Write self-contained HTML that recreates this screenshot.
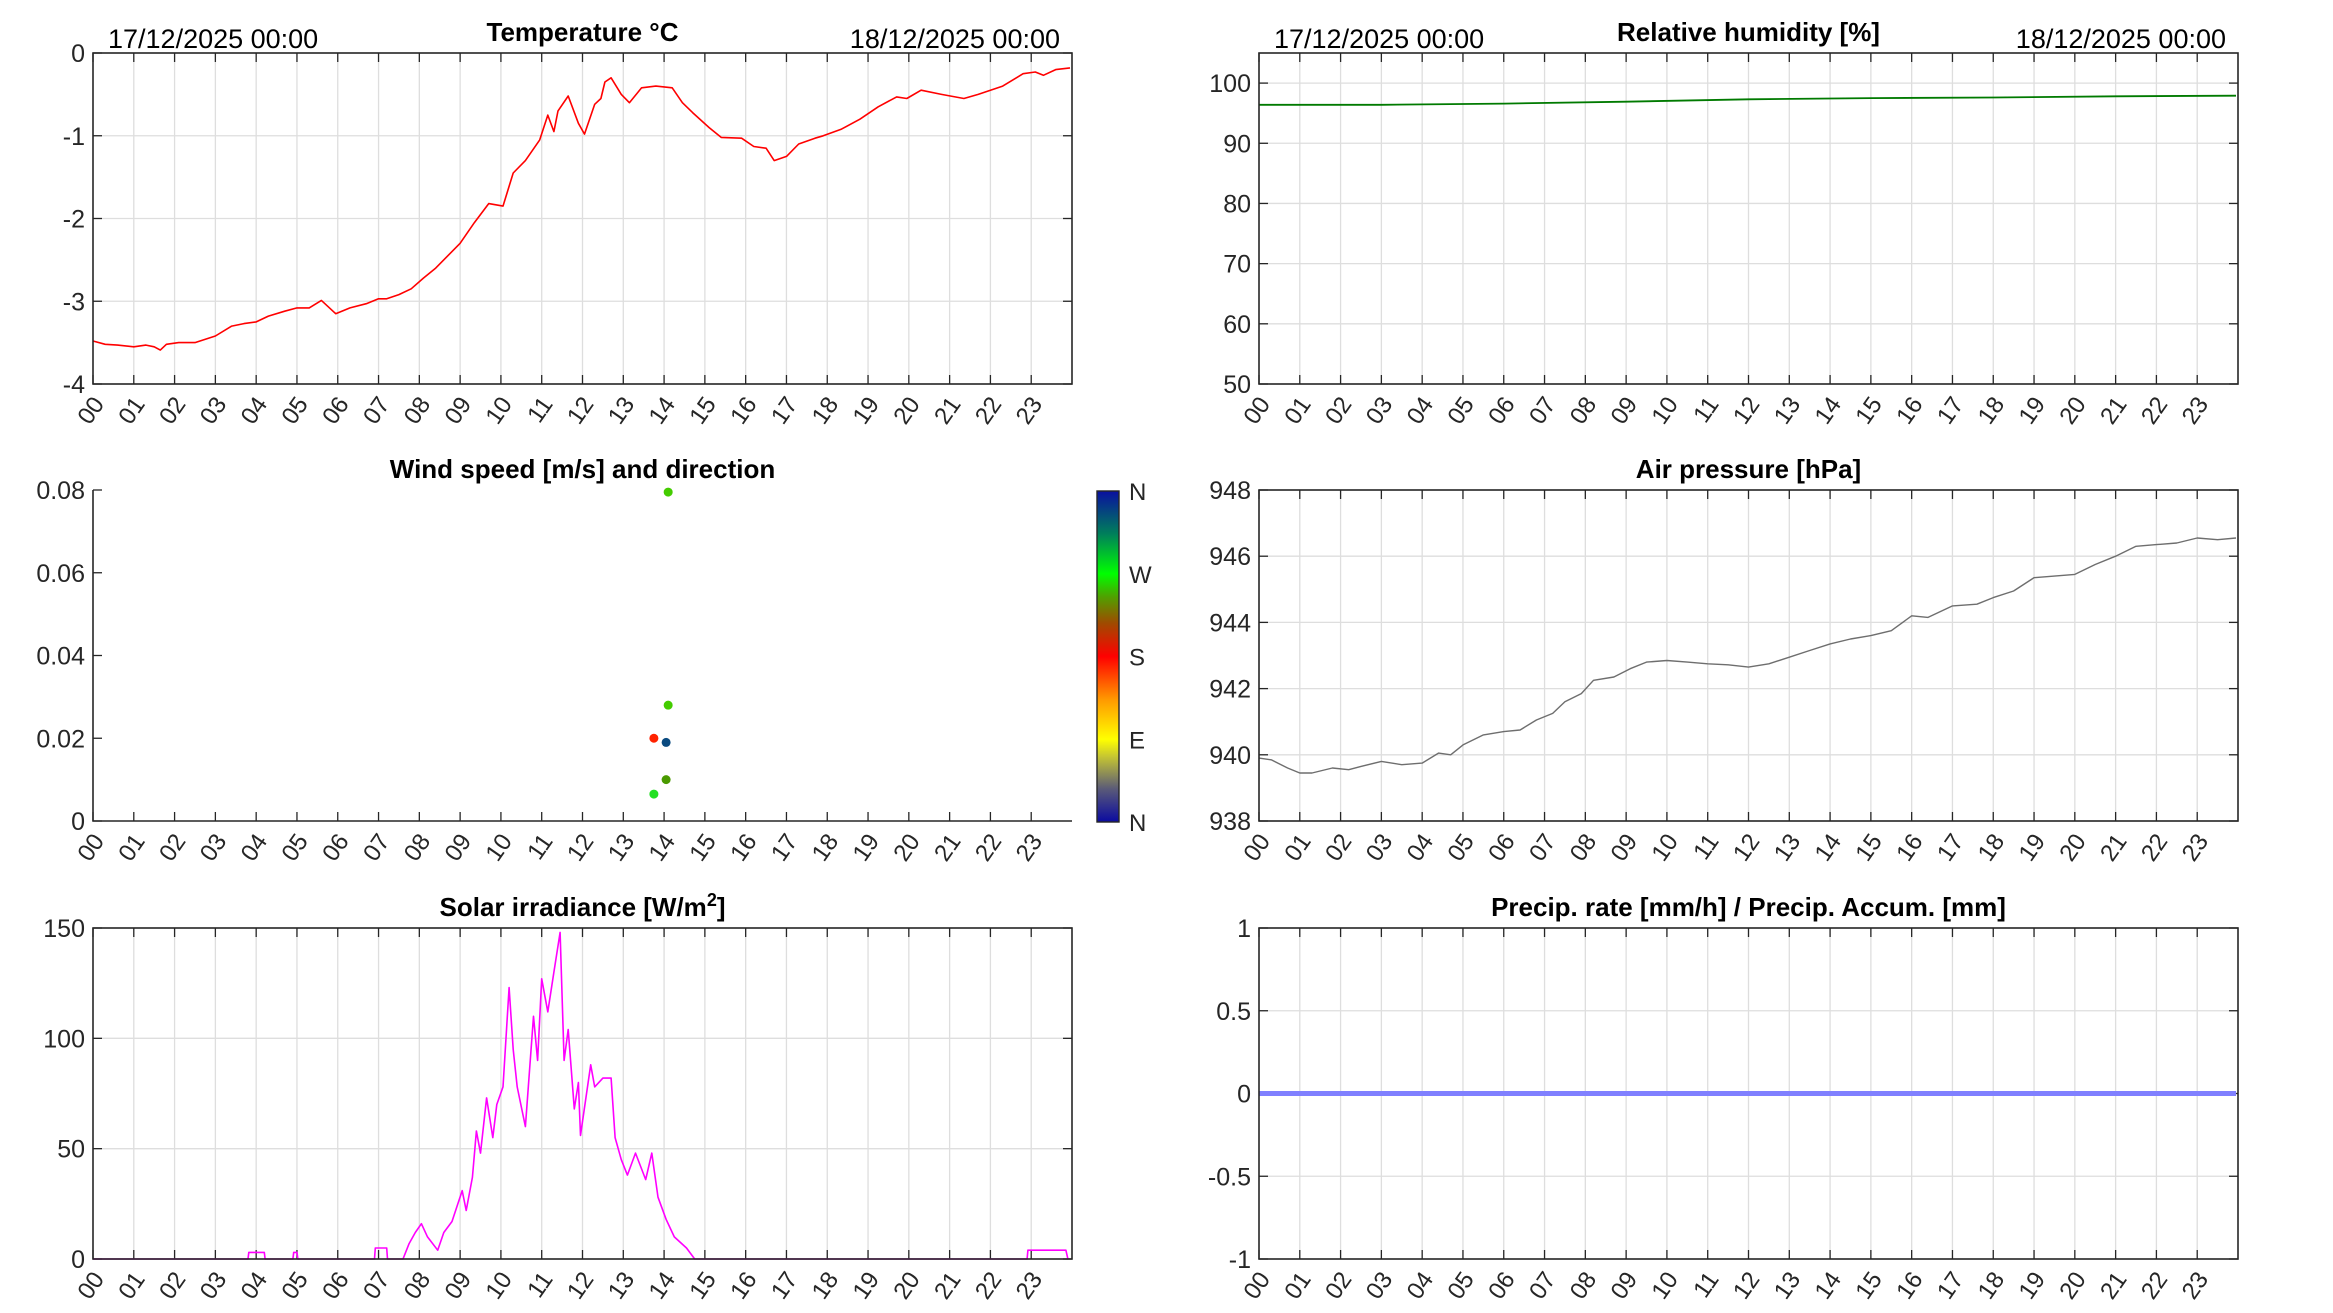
<!DOCTYPE html>
<html><head><meta charset="utf-8"><style>
html,body{margin:0;padding:0;background:#fff;}
svg{display:block;font-family:"Liberation Sans",Arial,sans-serif;}
</style></head><body>
<svg id="fig" width="2333" height="1313" viewBox="0 0 2333 1313" xmlns="http://www.w3.org/2000/svg"></svg>
<script>
const hourLabels=["00","01","02","03","04","05","06","07","08","09","10","11","12","13","14","15","16","17","18","19","20","21","22","23"];
const tempHours=[0,0.3,0.6,1,1.3,1.5,1.65,1.8,2.1,2.5,3,3.4,3.7,4,4.3,4.7,5,5.3,5.6,5.95,6.3,6.7,7,7.2,7.5,7.8,8.1,8.4,8.7,9.0,9.35,9.7,10.05,10.3,10.6,10.95,11.15,11.3,11.4,11.65,11.9,12.05,12.3,12.45,12.55,12.7,12.95,13.15,13.45,13.8,14.2,14.45,14.7,15.1,15.4,15.9,16.2,16.5,16.7,17,17.3,17.7,17.9,18.35,18.8,19.25,19.7,19.95,20.3,20.8,21.35,21.7,22.3,22.8,23.1,23.3,23.6,23.95];
const tempValues=[-3.48,-3.52,-3.53,-3.55,-3.53,-3.55,-3.59,-3.52,-3.5,-3.5,-3.42,-3.3,-3.27,-3.25,-3.18,-3.12,-3.08,-3.08,-2.99,-3.15,-3.08,-3.03,-2.97,-2.97,-2.92,-2.85,-2.72,-2.6,-2.45,-2.3,-2.05,-1.82,-1.85,-1.45,-1.3,-1.05,-0.75,-0.95,-0.7,-0.52,-0.85,-0.98,-0.62,-0.55,-0.35,-0.3,-0.5,-0.6,-0.42,-0.4,-0.42,-0.6,-0.72,-0.9,-1.02,-1.03,-1.13,-1.15,-1.3,-1.25,-1.1,-1.03,-1.0,-0.92,-0.8,-0.65,-0.53,-0.55,-0.45,-0.5,-0.55,-0.5,-0.4,-0.25,-0.23,-0.27,-0.2,-0.18];
const tempTicks=[-4,-3,-2,-1,0];
const humHours=[0,3,6,9,12,15,18,21,23.95];
const humValues=[96.4,96.4,96.6,96.9,97.3,97.5,97.6,97.8,97.9];
const humTicks=[50,60,70,80,90,100];
const windHours=[13.75,13.75,14.1,14.1,14.05,14.05];
const windSpeeds=[0.0065,0.0200,0.0795,0.0280,0.0190,0.0100];
const windColors=["#22e022","#ff2200","#44cc00","#44cc00","#0a4a80","#4a9a00"];
const windTicks=[0,0.02,0.04,0.06,0.08];
const presHours=[0,0.3,0.7,1,1.3,1.8,2.2,2.5,3,3.5,4,4.4,4.7,5,5.5,6,6.4,6.8,7.2,7.5,7.9,8.2,8.7,9.1,9.5,10,10.5,11,11.5,12,12.5,13,13.5,14,14.5,15,15.5,16,16.4,17,17.6,18,18.5,19,19.5,20,20.5,21,21.5,22,22.5,23,23.5,23.95];
const presValues=[939.9,939.85,939.6,939.45,939.45,939.6,939.55,939.65,939.8,939.7,939.75,940.05,940.0,940.3,940.6,940.7,940.75,941.05,941.25,941.6,941.85,942.25,942.35,942.6,942.8,942.85,942.8,942.75,942.72,942.65,942.75,942.95,943.15,943.35,943.5,943.6,943.75,944.2,944.15,944.5,944.55,944.75,944.95,945.35,945.4,945.45,945.75,946.0,946.3,946.35,946.4,946.55,946.5,946.55];
const presTicks=[938,940,942,944,946,948];
const solarHours=[0,3.8,3.82,4.2,4.22,4.9,4.92,5.0,5.02,6.9,6.92,7.2,7.22,7.6,7.75,7.9,8.05,8.2,8.45,8.6,8.8,9.05,9.15,9.3,9.4,9.5,9.65,9.8,9.9,10.05,10.2,10.3,10.4,10.6,10.8,10.9,11.0,11.15,11.3,11.45,11.55,11.65,11.8,11.9,11.95,12.2,12.3,12.5,12.7,12.8,12.95,13.1,13.3,13.55,13.7,13.85,14.05,14.25,14.55,14.75,22.9,22.92,23.85,23.9];
const solarValues=[0,0,3,3,0,0,3,3,0,0,5,5,0,0,7,12,16,10,4,12,17,31,22,37,58,48,73,55,70,78,123,95,78,60,110,90,127,112,130,148,90,104,68,80,56,88,78,82,82,55,45,38,48,36,48,28,18,10,5,0,0,4,4,0];
const solarTicks=[0,50,100,150];
const precipHours=[0,23.95];
const precipValues=[0,0];
const precipTicks=[-1,-0.5,0,0.5,1];

const NS="http://www.w3.org/2000/svg";
const svg=document.getElementById('fig');
function mk(tag,attrs,parent){const e=document.createElementNS(NS,tag);for(const k in attrs)e.setAttribute(k,attrs[k]);(parent||svg).appendChild(e);return e;}

function makeAxes(name,x0,y0,w,h,ymin,ymax,yticks,opts){
  const g=mk('g',{});
  
  
  const sx=t=>x0+t/24*w;
  const sy=v=>y0+h-(v-ymin)/(ymax-ymin)*h;
  const box=!opts.nobox;
  if(box){
    for(let i=1;i<24;i++){
      const gl=mk('line',{x1:sx(i),x2:sx(i),y1:y0,y2:y0+h,stroke:'#dedede','stroke-width':1.3},g);
      
      
    }
    yticks.forEach(v=>{
      const gl=mk('line',{x1:x0,x2:x0+w,y1:sy(v),y2:sy(v),stroke:'#dedede','stroke-width':1.3},g);
      
      
    });
  }
  // ticks
  for(let i=0;i<24;i++){
    const tk=mk('line',{x1:sx(i),x2:sx(i),y1:y0+h,y2:y0+h-9,stroke:'#262626','stroke-width':1.3},g);
    
    
    if(box){
      const tt=mk('line',{x1:sx(i),x2:sx(i),y1:y0,y2:y0+9,stroke:'#262626','stroke-width':1.3},g);
      
      
    }
    const lx=sx(i)+12, ly=y0+h+20;
    const lb=mk('text',{x:lx,y:ly,'font-size':24,fill:'#262626','text-anchor':'end',transform:`rotate(-55 ${lx} ${ly})`},g);
    lb.textContent=hourLabels[i];
    
    
  }
  yticks.forEach(v=>{
    const tk=mk('line',{x1:x0,x2:x0+9,y1:sy(v),y2:sy(v),stroke:'#262626','stroke-width':1.3},g);
    
    
    if(box){
      const tr=mk('line',{x1:x0+w,x2:x0+w-9,y1:sy(v),y2:sy(v),stroke:'#262626','stroke-width':1.3},g);
      
      
    }
    const lb=mk('text',{x:x0-8,y:sy(v)+9,'font-size':25,fill:'#262626','text-anchor':'end'},g);
    lb.textContent=String(v);
    
    
  });
  // title
  const t=mk('text',{x:x0+w/2,y:y0-12,'font-size':26,'font-weight':'bold',fill:'#000','text-anchor':'middle'},g);
  t.textContent=opts.title;
  
  
  if(opts.sup){const s=mk('tspan',{dy:-10,'font-size':18},t);s.textContent=opts.sup;const s2=mk('tspan',{dy:10},t);s2.textContent=']';}
  if(opts.dates){
    const d1=mk('text',{x:x0+15,y:y0-5,'font-size':27,fill:'#000'},g);
    d1.textContent='17/12/2025 00:00';
    
    
    const d2=mk('text',{x:x0+w-12,y:y0-5,'font-size':27,fill:'#000','text-anchor':'end'},g);
    d2.textContent='18/12/2025 00:00';
    
    
  }
  return {g,sx,sy,x0,y0,w,h,box};
}
function finishBox(a,left_only){
  if(a.box){
    const r=mk('rect',{x:a.x0,y:a.y0,width:a.w,height:a.h,fill:'none',stroke:'#262626','stroke-width':1.6},a.g);
    
    
  }else{
    const l=mk('path',{d:`M${a.x0} ${a.y0}V${a.y0+a.h}H${a.x0+a.w}`,fill:'none',stroke:'#262626','stroke-width':1.6},a.g);
    
    
  }
}
function drawLine(a,xs,ys,color,width,name){
  const d=xs.map((x,i)=>(i?'L':'M')+a.sx(x).toFixed(1)+' '+a.sy(ys[i]).toFixed(1)).join('');
  const p=mk('path',{d:d,fill:'none',stroke:color,'stroke-width':width,'stroke-linejoin':'round'},a.g);
  
  
}

const L=93,R=1259,W=979,H=331,T1=53,T2=490,T3=928;
const aT=makeAxes('temperature-chart',L,T1,W,H,-4,0,tempTicks,{title:'Temperature °C',dates:true});
drawLine(aT,tempHours,tempValues,'#ff0000',1.6,'temperature-line');finishBox(aT);
const aH=makeAxes('humidity-chart',R,T1,W,H,50,105,humTicks,{title:'Relative humidity [%]',dates:true});
drawLine(aH,humHours,humValues,'#007a00',1.8,'humidity-line');finishBox(aH);

const aW=makeAxes('wind-chart',L,T2,W,H,0,0.08,windTicks,{title:'Wind speed [m/s] and direction',nobox:true});
finishBox(aW);
windHours.forEach((hr,i)=>{
  const c=mk('circle',{cx:aW.sx(hr),cy:aW.sy(windSpeeds[i]),r:4.5,fill:windColors[i]},aW.g);
  
  
});
// colorbar
const defs=mk('defs',{});
const grad=mk('linearGradient',{id:'cb',x1:0,y1:1,x2:0,y2:0},defs);
[[0,'#0a0aa0'],[0.1,'#5a5a78'],[0.2,'#c8c830'],[0.25,'#ffff00'],[0.37,'#ff9900'],[0.5,'#ff0000'],[0.6,'#a04a00'],[0.68,'#50a000'],[0.75,'#00ff00'],[0.87,'#00805a'],[1,'#0a10a0']].forEach(s=>mk('stop',{offset:s[0],'stop-color':s[1]},grad));
const cb=mk('g',{});


mk('rect',{x:1097,y:491,width:22,height:331,fill:'url(#cb)',stroke:'#262626','stroke-width':1.4},cb);
const cbLabels=['N','E','S','W','N'];
cbLabels.forEach((t,i)=>{
  const y=822-i*331/4;
  const tx=mk('text',{x:1129,y:y+9,'font-size':24,fill:'#262626'},cb);
  tx.textContent=t;
  
  
});

const aP=makeAxes('pressure-chart',R,T2,W,H,938,948,presTicks,{title:'Air pressure [hPa]'});
drawLine(aP,presHours,presValues,'#6e6e6e',1.4,'pressure-line');finishBox(aP);
const aS=makeAxes('solar-chart',L,T3,W,H,0,150,solarTicks,{title:'Solar irradiance [W/m',sup:'2'});
drawLine(aS,solarHours,solarValues,'#ff00ff',1.6,'solar-line');finishBox(aS);
const aR=makeAxes('precip-chart',R,T3,W,H,-1,1,precipTicks,{title:'Precip. rate [mm/h] / Precip. Accum. [mm]'});
drawLine(aR,precipHours,precipValues,'#8080ff',5,'precip-line');finishBox(aR);
</script>
</body></html>
